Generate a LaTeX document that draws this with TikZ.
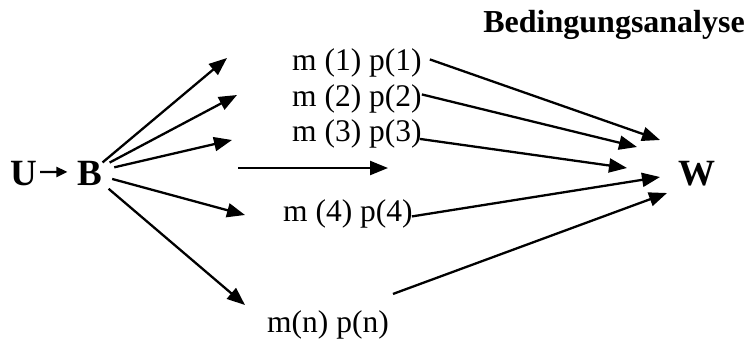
\documentclass[tikz,border=0pt]{standalone}
\usepackage{fontspec}
\setmainfont{Liberation Serif}
\usetikzlibrary{arrows.meta}
\begin{document}
\begin{tikzpicture}[x=1pt,y=-1pt,
  lbl/.style={inner sep=0pt,anchor=base west,font=\fontsize{31.5}{37}\selectfont},
  big/.style={inner sep=0pt,anchor=base,font=\fontsize{37}{43}\selectfont\bfseries},
  arr/.style={line width=2.3pt,-{Triangle[length=18pt,width=14pt]}},
  sarr/.style={line width=2.3pt,-{Triangle[length=11pt,width=10pt]}}]
\useasboundingbox (0,0) rectangle (749,338);
% title
\node[inner sep=0pt,anchor=base east,font=\fontsize{32}{38}\selectfont\bfseries] (title) at (745,32) {Bedingungsanalyse};
% main nodes
\node[big] (U) at (23.5,185) {U};
\node[big] (B) at (90,185) {B};
\node[big] (W) at (697,185) {W};
% labels
\node[lbl] (l1) at (292,70) {m (1) p(1)};
\node[lbl] (l2) at (292,106) {m (2) p(2)};
\node[lbl] (l3) at (292,141.5) {m (3) p(3)};
\node[lbl] (l4) at (283,221) {m (4) p(4)};
\node[lbl] (ln) at (267,332) {m(n) p(n)};
% arrow tips from B
\coordinate (t1) at (227,58);
\coordinate (t2) at (237,95);
\coordinate (t3) at (232,140);
\coordinate (t4) at (245,215);
\coordinate (t5) at (245,305);
% free horizontal arrow
\coordinate (h0) at (238,168);
\coordinate (h1) at (388,168);
% tips towards W
\coordinate (w1) at (660,140);
\coordinate (w2) at (637,147);
\coordinate (w3) at (627,168);
\coordinate (w4) at (660,177);
\coordinate (w5) at (667,193);
% U -> B
\draw[sarr] ([xshift=3pt,yshift=1pt]U.east) -- ([xshift=-10pt,yshift=1pt]B.west);
% fan out from B
\draw[arr] (B) -- (t1);
\draw[arr,shorten <=8pt] (B) -- (t2);
\draw[arr,shorten <=12pt] (B) -- (t3);
\draw[arr,shorten <=10pt] (B) -- (t4);
\draw[arr,shorten <=8pt] (B) -- (t5);
\draw[arr] (h0) -- (h1);
% into W
\draw[arr] ([xshift=8pt,yshift=3pt]l1.east) -- (w1);
\draw[arr] ([xshift=0pt,yshift=4pt]l2.east) -- (w2);
\draw[arr] ([xshift=-2pt,yshift=-5pt]l3.east) -- (w3);
\draw[arr] ([xshift=-1pt,yshift=-3pt]l4.east) -- (w4);
\draw[arr] ([xshift=4pt,yshift=16pt]ln.north east) -- (w5);
\end{tikzpicture}
\end{document}
